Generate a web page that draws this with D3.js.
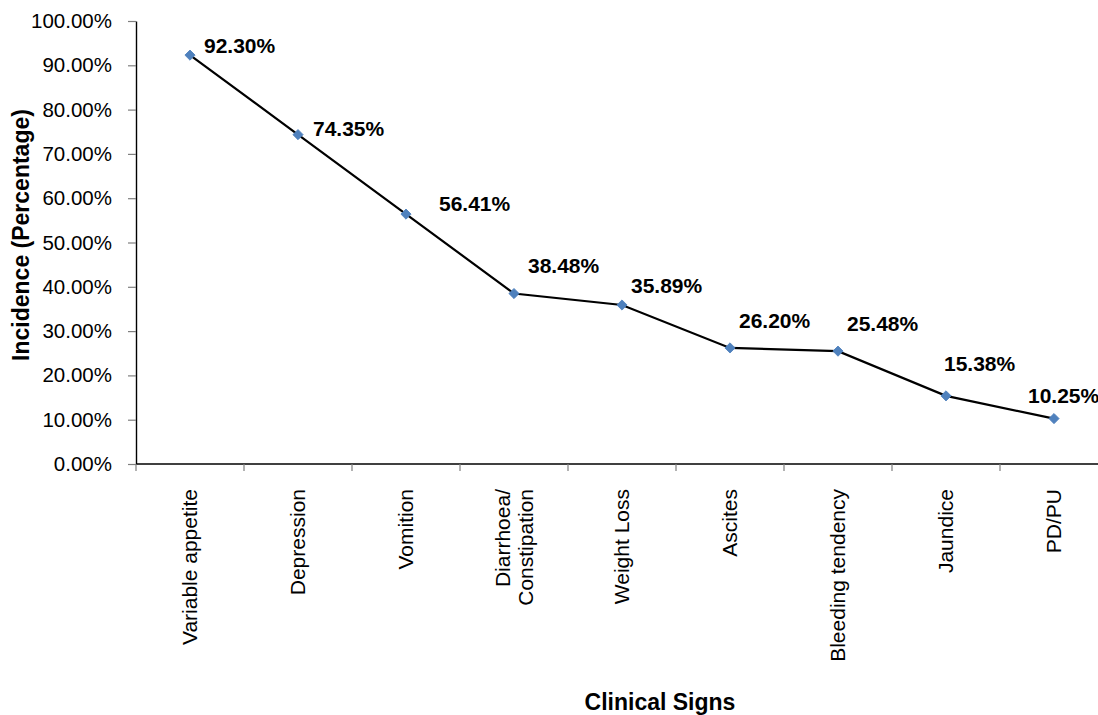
<!DOCTYPE html>
<html>
<head>
<meta charset="utf-8">
<script src="https://cdn.jsdelivr.net/npm/d3@7"></script>
<style>
  html, body { margin: 0; padding: 0; background: #ffffff; }
  svg { display: block; font-family: "Liberation Sans", Arial, Helvetica, sans-serif; }
</style>
</head>
<body>
<svg id="chart" width="1098" height="715"></svg>
<script>
// Incidence of clinical signs (percent)
const categories = [
  "Variable appetite", "Depression", "Vomition", "Diarrhoea/\nConstipation",
  "Weight Loss", "Ascites", "Bleeding tendency", "Jaundice", "PD/PU"
];
const incidence = [92.30, 74.35, 56.41, 38.48, 35.89, 26.20, 25.48, 15.38, 10.25];
const yTicks = [0, 10, 20, 30, 40, 50, 60, 70, 80, 90, 100];

// placement of each value label relative to its point
const labelOffsets = [
  [14, -2], [15, 1], [33, -3], [14, -21], [9, -12],
  [9, -20], [9, -20], [-2, -25], [-26, -16]
];

const svg = d3.select("#chart");
const plotLeft = 136, plotRight = 1108, plotTop = 21, plotBottom = 464;

const x = d3.scaleBand().domain(categories).range([plotLeft, plotRight]);
const y = d3.scaleLinear().domain([0, 100]).range([plotBottom, plotTop]);
const fmt = v => v.toFixed(2) + "%";

// Y axis
const yAxis = svg.append("g")
  .attr("transform", `translate(${plotLeft},0)`)
  .call(d3.axisLeft(y).tickValues(yTicks).tickFormat(fmt)
    .tickSize(8).tickSizeOuter(0).tickPadding(16));
yAxis.select(".domain").attr("stroke", "#000").attr("stroke-width", 1.4);
yAxis.selectAll(".tick line").attr("stroke", "#7f7f7f").attr("stroke-width", 1.2);
yAxis.selectAll(".tick text")
  .attr("font-size", 20.5).attr("fill", "#000")
  .attr("font-family", "'Liberation Sans', Arial, sans-serif");

// X axis: baseline, boundary ticks and rotated category labels
const xg = svg.append("g");
xg.append("line")
  .attr("x1", plotLeft).attr("x2", plotRight)
  .attr("y1", plotBottom).attr("y2", plotBottom)
  .attr("stroke", "#000").attr("stroke-width", 1.4);

const bounds = categories.map(c => x(c)).concat([x.range()[1]]);
xg.selectAll("line.xtick").data(bounds).join("line")
  .attr("class", "xtick")
  .attr("x1", d => d).attr("x2", d => d)
  .attr("y1", plotBottom).attr("y2", plotBottom + 7)
  .attr("stroke", "#7f7f7f").attr("stroke-width", 1.2);

const xl = xg.selectAll("text.xlab").data(categories).join("text")
  .attr("class", "xlab")
  .attr("transform", d => `translate(${x(d) + x.bandwidth() / 2},489) rotate(-90)`)
  .attr("text-anchor", "end")
  .attr("font-size", 21)
  .attr("fill", "#000");
xl.each(function(d) {
  const lines = d.split("\n");
  const t = d3.select(this);
  lines.forEach((ln, i) => {
    const first = 0.35 - (lines.length - 1) * 0.55;
    t.append("tspan")
      .attr("x", 0)
      .attr("dy", (i === 0 ? first : 1.1) + "em")
      .text(ln);
  });
});

// Line
const pts = categories.map((c, i) => ({ c, v: incidence[i], off: labelOffsets[i] }));
const line = d3.line()
  .x(d => x(d.c) + x.bandwidth() / 2)
  .y(d => y(d.v));
svg.append("path")
  .datum(pts)
  .attr("d", line)
  .attr("fill", "none")
  .attr("stroke", "#000")
  .attr("stroke-width", 2.2);

// Diamond markers
svg.selectAll("path.mk").data(pts).join("path")
  .attr("class", "mk")
  .attr("d", d3.symbol(d3.symbolSquare, 52))
  .attr("transform", d => `translate(${x(d.c) + x.bandwidth() / 2},${y(d.v)}) rotate(45)`)
  .attr("fill", "#4f81bd")
  .attr("stroke", "#4f81bd")
  .attr("stroke-width", 0.8);

// Value labels
svg.selectAll("text.val").data(pts).join("text")
  .attr("class", "val")
  .attr("x", d => x(d.c) + x.bandwidth() / 2 + d.off[0])
  .attr("y", d => y(d.v) + d.off[1])
  .attr("font-size", 21)
  .attr("font-weight", "bold")
  .attr("fill", "#000")
  .text(d => fmt(d.v));

// Axis titles
svg.append("text")
  .attr("transform", "translate(29,235) rotate(-90)")
  .attr("text-anchor", "middle")
  .attr("font-size", 23)
  .attr("font-weight", "bold")
  .text("Incidence (Percentage)");

svg.append("text")
  .attr("x", 660).attr("y", 710)
  .attr("text-anchor", "middle")
  .attr("font-size", 23)
  .attr("font-weight", "bold")
  .text("Clinical Signs");
</script>
</body>
</html>
